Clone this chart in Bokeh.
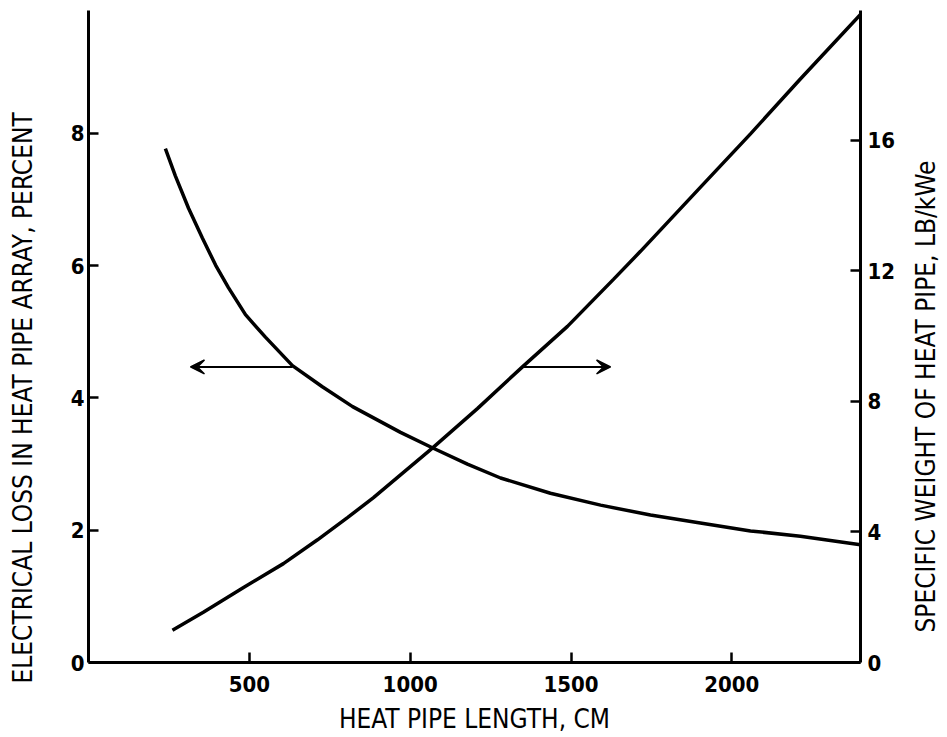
import math
from bokeh.plotting import figure
from bokeh.layouts import row
from bokeh.models import (Range1d, LinearAxis, FixedTicker, Arrow, VeeHead, Label)
from bokeh.embed import file_html
from bokeh.resources import INLINE

# Data
loss_x = [239, 270, 311, 354, 395, 435, 488, 550, 634, 727, 821, 970, 1072,
          1178, 1281, 1436, 1592, 1747, 1902, 2058, 2213, 2400]
loss_y = [7.77, 7.36, 6.87, 6.42, 6.01, 5.67, 5.26, 4.92, 4.49, 4.17, 3.87, 3.48, 3.24,
          3.00, 2.79, 2.56, 2.38, 2.23, 2.11, 1.99, 1.91, 1.78]

weight_x = [261, 357, 482, 606, 712, 805, 886, 970, 1069, 1209, 1349, 1489, 1632,
            1716, 1902, 2058, 2213, 2400]
weight_y = [0.99, 1.54, 2.30, 3.03, 3.76, 4.44, 5.05, 5.75, 6.57, 7.78, 9.06, 10.3, 11.74,
            12.6, 14.56, 16.2, 17.88, 19.86]

x_ticks = [500, 1000, 1500, 2000]
left_ticks = [0, 2, 4, 6, 8]
right_ticks = [0, 4, 8, 12, 16]

x_title = "HEAT PIPE LENGTH, CM"
left_title = "ELECTRICAL LOSS IN HEAT PIPE ARRAY, PERCENT"
right_title = "SPECIFIC WEIGHT OF HEAT PIPE, LB/kWe"

FONT = "DejaVu Sans Condensed"
TITLE_SIZE = "26px"
H = 736

p = figure(width=858, height=H, output_backend="svg", toolbar_location=None,
           x_range=Range1d(0, 2400), y_range=Range1d(0, 9.86),
           min_border_left=40, min_border_right=46, min_border_top=10, min_border_bottom=73)
p.extra_y_ranges = {"right": Range1d(0, 19.98)}
p.outline_line_color = None
p.grid.visible = False
p.background_fill_color = "white"
p.border_fill_color = "white"

def style_axis(ax):
    ax.axis_line_width = 3
    ax.axis_line_color = "black"
    ax.major_tick_in = 10
    ax.major_tick_out = 0
    ax.minor_tick_line_color = None
    ax.major_tick_line_width = 2.5
    ax.major_tick_line_color = "black"
    ax.major_label_text_font = FONT
    ax.major_label_text_font_style = "bold"
    ax.major_label_text_font_size = "22px"
    ax.major_label_text_color = "black"
    ax.axis_label_text_font = FONT
    ax.axis_label_text_font_style = "normal"
    ax.axis_label_text_font_size = TITLE_SIZE
    ax.axis_label_text_color = "black"

xa = p.xaxis[0]
style_axis(xa)
xa.ticker = FixedTicker(ticks=x_ticks)
xa.major_label_standoff = 13
xa.axis_label = x_title
xa.axis_label_standoff = 9

ya = p.yaxis[0]
style_axis(ya)
ya.ticker = FixedTicker(ticks=left_ticks)
ya.major_label_standoff = 4

ra = LinearAxis(y_range_name="right")
style_axis(ra)
ra.ticker = FixedTicker(ticks=right_ticks)
ra.major_label_standoff = 7
p.add_layout(ra, "right")

p.line(loss_x, loss_y, line_width=3.5, line_color="black")
p.line(weight_x, weight_y, line_width=3.5, line_color="black", y_range_name="right")

# direction arrows
arrow_y = 4.47
p.add_layout(Arrow(end=VeeHead(size=14, fill_color="black", line_color="black", line_width=1.5),
                   x_start=634, y_start=arrow_y, x_end=317, y_end=arrow_y,
                   line_width=2, line_color="black"))
p.add_layout(Arrow(end=VeeHead(size=14, fill_color="black", line_color="black", line_width=1.5),
                   x_start=1349, y_start=arrow_y, x_end=1623, y_end=arrow_y,
                   line_width=2, line_color="black"))

def title_strip(width, text, tx, ty):
    s = figure(width=width, height=H, output_backend="svg", toolbar_location=None,
               x_range=Range1d(0, width), y_range=Range1d(0, H),
               x_axis_type=None, y_axis_type=None,
               min_border_left=0, min_border_right=0, min_border_top=0, min_border_bottom=0)
    if "frame_align" in s.properties():
        s.frame_align = False
    s.outline_line_color = None
    s.grid.visible = False
    s.background_fill_color = "white"
    s.border_fill_color = "white"
    s.add_layout(Label(x=tx, y=ty, text=text, angle=math.pi / 2,
                       text_align="left", text_baseline="middle",
                       text_font=FONT, text_font_size=TITLE_SIZE, text_color="black"))
    return s

left_strip = title_strip(48, left_title, 22, 53)
right_strip = title_strip(40, right_title, 19, 104)

layout = row(left_strip, p, right_strip)
open("out.html", "w").write(file_html(layout, INLINE))
